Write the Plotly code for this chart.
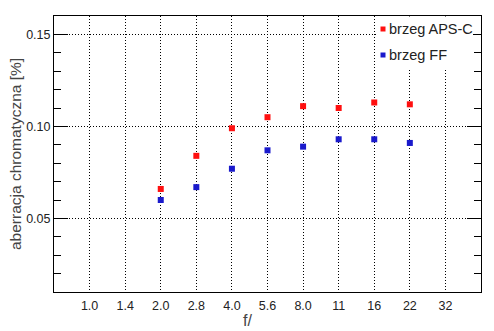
import plotly.graph_objects as go

f_labels = ["1.0", "1.4", "2.0", "2.8", "4.0", "5.6", "8.0", "11", "16", "22", "32"]
aps_c_f = ["2.0", "2.8", "4.0", "5.6", "8.0", "11", "16", "22"]
aps_c_vals = [0.066, 0.084, 0.099, 0.105, 0.111, 0.110, 0.113, 0.112]
ff_f = ["2.0", "2.8", "4.0", "5.6", "8.0", "11", "16", "22"]
ff_vals = [0.060, 0.067, 0.077, 0.087, 0.089, 0.093, 0.093, 0.091]
y_ticks = [0.05, 0.10, 0.15]
series_names = ["brzeg APS-C", "brzeg FF"]
series_colors = ["#ff1010", "#1a1acc"]

FONT = "Liberation Sans, Arial, sans-serif"
idx = {lab: i for i, lab in enumerate(f_labels)}

fig = go.Figure()
fig.add_trace(go.Scatter(
    x=[idx[v] for v in aps_c_f], y=aps_c_vals, mode="markers", name=series_names[0],
    marker=dict(symbol="square", size=6, color=series_colors[0], line=dict(width=0)),
))
fig.add_trace(go.Scatter(
    x=[idx[v] for v in ff_f], y=ff_vals, mode="markers", name=series_names[1],
    marker=dict(symbol="square", size=6, color=series_colors[1], line=dict(width=0)),
))

# page offset of 8px (body margin) compensated: figure is 486x323
W, H = 486, 323
L, R, T, B = 46, 13, 8, 39
PW, PH = W - L - R, H - T - B


def px(p):  # page x pixel -> paper
    return (p - 8 - L) / PW


def py(q):  # page y pixel -> paper
    return (H - B + 8 - q) / PH


shapes = [
    dict(type="rect", xref="paper", yref="paper", x0=px(377), x1=px(473), y0=py(69), y1=py(16.5),
         fillcolor="white", line=dict(width=0), layer="above"),
]
legend_rows = [(26.5, 29.3), (52.5, 55.5)]
annotations = [
    dict(
        text="f/", xref="paper", yref="paper", x=px(247), y=0, yshift=-18,
        xanchor="center", yanchor="top", showarrow=False,
        font=dict(size=16, color="#444"),
    ),
    dict(
        text="aberracja chromatyczna [%]", xref="paper", yref="paper",
        x=0, xshift=-39, y=0.5, xanchor="center", yanchor="middle",
        textangle=-90, showarrow=False, borderpad=0,
        font=dict(size=15.5, color="#444"),
    ),
]
for (sq_top, txt_c), name, col in zip(legend_rows, series_names, series_colors):
    shapes.append(dict(type="rect", xref="paper", yref="paper",
                       x0=px(380.5), x1=px(385.5), y0=py(sq_top + 5), y1=py(sq_top),
                       fillcolor=col, line=dict(width=0), layer="above"))
    annotations.append(dict(text=name, xref="paper", yref="paper", x=px(386.5), y=py(txt_c),
                            xanchor="left", yanchor="middle", showarrow=False,
                            font=dict(size=14.5, color="#222")))

fig.update_layout(
    width=W, height=H,
    margin=dict(l=L, r=R, t=T, b=B, autoexpand=False),
    paper_bgcolor="white", plot_bgcolor="white",
    font=dict(family=FONT, size=12.5, color="#222"),
    showlegend=False,
    xaxis=dict(
        range=[-1, 11], automargin=False,
        tickmode="array", tickvals=list(range(len(f_labels))), ticktext=f_labels,
        showgrid=True, gridcolor="black", griddash="1px,2px", gridwidth=1,
        showline=True, linecolor="black", linewidth=1, mirror=True,
        ticks="", zeroline=False,
        ticklabelstandoff=2,
    ),
    yaxis=dict(
        range=[0.01, 0.16], automargin=False,
        tickmode="array", tickvals=y_ticks, ticktext=["0.05", "0.10", "0.15"],
        showgrid=True, gridcolor="black", griddash="1px,2px", gridwidth=1,
        showline=True, linecolor="black", linewidth=1, mirror="ticks",
        ticks="inside", ticklen=14, tickcolor="black",
        minor=dict(dtick=0.01, tick0=0, ticks="inside", ticklen=7, tickcolor="black", showgrid=False),
        zeroline=False,
        ticklabelstandoff=0,
    ),
    shapes=shapes,
    annotations=annotations,
)

fig.write_html("out.html")
